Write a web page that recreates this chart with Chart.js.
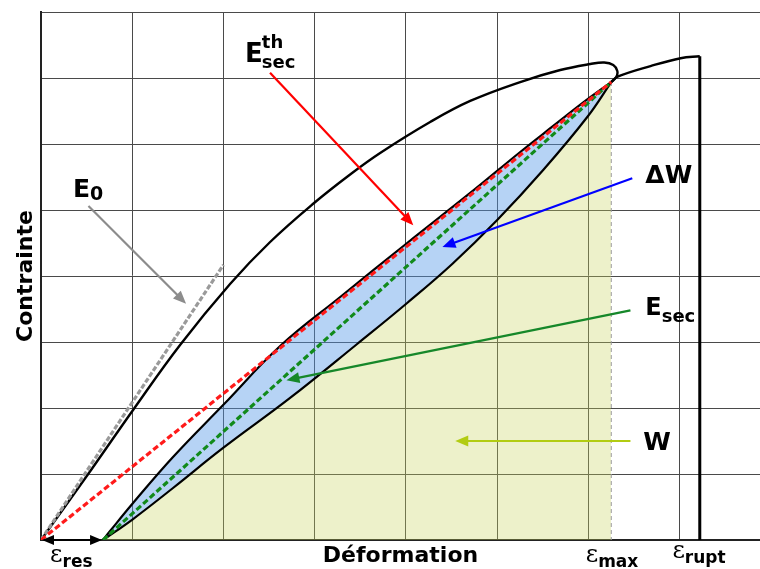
<!DOCTYPE html>
<html>
<head>
<meta charset="utf-8">
<script src="https://cdn.jsdelivr.net/npm/chart.js@4.4.0/dist/chart.umd.min.js"></script>
<style>
  html, body { margin: 0; padding: 0; background: #fff; }
</style>
</head>
<body>
<canvas id="chart" width="760" height="569"></canvas>
<script>
// grid ticks
const xTicks = [0, 1, 2, 3, 4, 5, 6, 7];
const yTicks = [0, 1, 2, 3, 4, 5, 6, 7, 8];

// loading curve, up to the loop at eps_max
const loadX = [0, 0.537, 1.009, 1.524, 2.072, 2.511, 2.993, 3.388, 3.717, 4.265, 4.704, 5.252, 5.691, 6.020, 6.173, 6.272, 6.316, 6.305, 6.25];
const loadY = [0, 1.038, 1.970, 2.955, 3.879, 4.515, 5.106, 5.538, 5.864, 6.333, 6.652, 6.939, 7.121, 7.212, 7.235, 7.197, 7.106, 7.015, 6.939];

// unloading (lower side of the loop)
const unloadX = [0.68, 1.009, 1.447, 1.996, 2.730, 3.465, 4.013, 4.507, 5.0, 5.504, 5.987, 6.25];
const unloadY = [0, 0.318, 0.788, 1.394, 2.152, 2.970, 3.591, 4.182, 4.848, 5.606, 6.409, 6.939];

// reloading (upper side of the loop)
const reloadX = [0.68, 0.757, 1.009, 1.447, 1.996, 2.621, 3.279, 4.013, 4.704, 5.252, 5.614, 5.965, 6.25];
const reloadY = [0, 0.136, 0.561, 1.258, 2.045, 2.939, 3.682, 4.500, 5.258, 5.879, 6.273, 6.652, 6.939];

// after eps_max up to rupture
const ruptX = [6.25, 6.32, 6.68, 7.01, 7.22];
const ruptY = [6.939, 7.02, 7.18, 7.30, 7.33];

const epsRes = 0.68;
const epsMax = 6.25;
const sigMax = 6.939;
const epsRupt = 7.22;
const e0End = [2.0, 4.17];

const pts = (xs, ys) => xs.map((x, i) => ({ x: x, y: ys[i] }));

// annotation arrows (data coords)
const arrows = [
  { from: [2.51, 7.08], to: [4.08, 4.77], color: "#ff0000" },
  { from: [0.52, 5.06], to: [1.59, 3.58], color: "#8c8c8c" },
  { from: [6.48, 5.48], to: [4.40, 4.44], color: "#0000ff" },
  { from: [6.46, 3.48], to: [2.69, 2.42], color: "#16882a" },
  { from: [6.46, 1.50], to: [4.54, 1.50], color: "#b2cc12" },
];

function arrowHead(ctx, x1, y1, x2, y2, len, wid) {
  const a = Math.atan2(y2 - y1, x2 - x1);
  ctx.beginPath();
  ctx.moveTo(x2, y2);
  ctx.lineTo(x2 - len * Math.cos(a) + wid * Math.sin(a), y2 - len * Math.sin(a) - wid * Math.cos(a));
  ctx.lineTo(x2 - len * Math.cos(a) - wid * Math.sin(a), y2 - len * Math.sin(a) + wid * Math.cos(a));
  ctx.closePath();
  ctx.fill();
}

const SANS = "'DejaVu Sans', sans-serif";
const SERIF = "'DejaVu Serif', serif";

const annotations = {
  id: "annotations",
  afterDraw(chart) {
    const ctx = chart.ctx;
    const xs = chart.scales.x;
    const ys = chart.scales.y;
    const px = (v) => xs.getPixelForValue(v);
    const py = (v) => ys.getPixelForValue(v);
    ctx.save();

    arrows.forEach((a) => {
      const x1 = px(a.from[0]), y1 = py(a.from[1]);
      const x2 = px(a.to[0]), y2 = py(a.to[1]);
      const ang = Math.atan2(y2 - y1, x2 - x1);
      ctx.strokeStyle = a.color;
      ctx.fillStyle = a.color;
      ctx.lineWidth = 2.2;
      ctx.beginPath();
      ctx.moveTo(x1, y1);
      ctx.lineTo(x2 - 8 * Math.cos(ang), y2 - 8 * Math.sin(ang));
      ctx.stroke();
      arrowHead(ctx, x1, y1, x2, y2, 13, 5.5);
    });

    // eps_res double arrow
    const r0 = px(0), r1 = px(epsRes), ry = py(0);
    ctx.strokeStyle = "#000";
    ctx.fillStyle = "#000";
    ctx.lineWidth = 2;
    ctx.beginPath();
    ctx.moveTo(r0 + 6, ry);
    ctx.lineTo(r1 - 6, ry);
    ctx.stroke();
    arrowHead(ctx, r1, ry, r0 + 1, ry, 12, 5);
    arrowHead(ctx, r0, ry, r1 - 1, ry, 12, 5);

    // labels
    ctx.fillStyle = "#000";
    ctx.textBaseline = "alphabetic";
    ctx.textAlign = "left";
    function put(x, y, main, mainFont, sub, sup, subFont) {
      ctx.font = mainFont;
      ctx.fillText(main, x, y);
      const w = ctx.measureText(main).width;
      ctx.font = subFont;
      if (sub) ctx.fillText(sub.t, x + w + sub.dx, y + sub.dy);
      if (sup) ctx.fillText(sup.t, x + w + sup.dx, y + sup.dy);
    }
    const bold = (s) => "bold " + s + "px " + SANS;

    put(px(2.237), py(7.24), "E", bold(26), { t: "sec", dx: -1, dy: 6 }, { t: "th", dx: -1, dy: -14 }, bold(18));
    put(px(0.351), py(5.197), "E", bold(25), { t: "0", dx: 0, dy: 3 }, null, bold(19));
    put(px(6.623), py(3.409), "E", bold(24), { t: "sec", dx: 0, dy: 7 }, null, bold(18));
    ctx.font = bold(25);
    ctx.fillText("\u0394W", px(6.623), py(5.409));
    ctx.fillText("W", px(6.60), py(1.364));

    // strain labels under the axis
    const base = py(0);
    put(px(0.10), base + 22, "\u03b5", "24px " + SERIF, { t: "res", dx: 0, dy: 5 }, null, bold(17));
    put(px(5.97), base + 22, "\u03b5", "24px " + SERIF, { t: "max", dx: 0, dy: 5 }, null, bold(17));
    put(px(6.92), base + 18, "\u03b5", "24px " + SERIF, { t: "rupt", dx: 0, dy: 5 }, null, bold(17));

    // axis titles
    ctx.font = bold(22);
    ctx.textAlign = "center";
    ctx.fillText("D\u00e9formation", (chart.chartArea.left + chart.chartArea.right) / 2, base + 22);
    ctx.translate(32, (chart.chartArea.top + chart.chartArea.bottom) / 2);
    ctx.rotate(-Math.PI / 2);
    ctx.font = bold(22);
    ctx.fillText("Contrainte", 0, 0);
    ctx.restore();
  },
};

const whiteBg = {
  id: "whiteBg",
  beforeDraw(chart) {
    const ctx = chart.ctx;
    ctx.save();
    ctx.fillStyle = "#fff";
    ctx.fillRect(0, 0, chart.width, chart.height);
    ctx.restore();
  },
};

const line = (data, color, width, extra) =>
  Object.assign(
    {
      data: data,
      showLine: true,
      borderColor: color,
      borderWidth: width,
      pointRadius: 0,
      fill: false,
      tension: 0,
    },
    extra || {}
  );

const ctx = document.getElementById("chart").getContext("2d");
new Chart(ctx, {
  type: "scatter",
  data: {
    datasets: [
      line([{ x: 0, y: 0 }, { x: epsMax, y: sigMax }], "#ff1a1a", 3.2, { borderDash: [6, 3], order: 0 }),
      line([{ x: epsRes, y: 0 }, { x: epsMax, y: sigMax }], "#118a1a", 3.2, { borderDash: [6, 3], order: 0 }),
      line([{ x: 0, y: 0 }, { x: e0End[0], y: e0End[1] }], "#9a9a9a", 3.2, { borderDash: [5, 2], order: 0 }),
      line(pts(loadX, loadY), "#000", 2.4, { tension: 0.4, order: 1 }),
      line(pts(ruptX, ruptY), "#000", 2.4, { tension: 0.4, order: 1 }),
      line([{ x: epsRupt, y: ruptY[ruptY.length - 1] }, { x: epsRupt, y: 0 }], "#000", 3, { order: 1 }),
      line(pts(unloadX, unloadY), "#000", 2.2, {
        tension: 0.4,
        order: 2,
        fill: { target: "origin", above: "rgba(200, 210, 90, 0.32)" },
      }),
      line(pts(reloadX, reloadY), "#000", 2.2, {
        tension: 0.4,
        order: 2,
        fill: { target: 6, above: "rgba(80, 150, 230, 0.42)", below: "rgba(80, 150, 230, 0.42)" },
      }),
      line([{ x: epsMax, y: sigMax }, { x: epsMax, y: 0 }], "#9a9a9a", 1, { borderDash: [4, 3], order: 3 }),
    ],
  },
  options: {
    responsive: false,
    animation: false,
    layout: { padding: { left: 41, top: 12, right: 0, bottom: 29 } },
    plugins: {
      legend: { display: false },
      tooltip: { enabled: false },
      filler: { drawTime: "beforeDatasetsDraw" },
    },
    scales: {
      x: {
        type: "linear",
        min: 0,
        max: 7.88,
        afterBuildTicks: (s) => { s.ticks = xTicks.map((v) => ({ value: v })); },
        ticks: { display: false },
        grid: { color: "#4a4a4a", lineWidth: 1, drawTicks: false },
        border: { color: "#222", width: 2 },
      },
      y: {
        min: 0,
        max: 8,
        afterBuildTicks: (s) => { s.ticks = yTicks.map((v) => ({ value: v })); },
        ticks: { display: false },
        grid: { color: "#4a4a4a", lineWidth: 1, drawTicks: false },
        border: { color: "#222", width: 2 },
      },
    },
  },
  plugins: [whiteBg, annotations],
});
</script>
</body>
</html>
